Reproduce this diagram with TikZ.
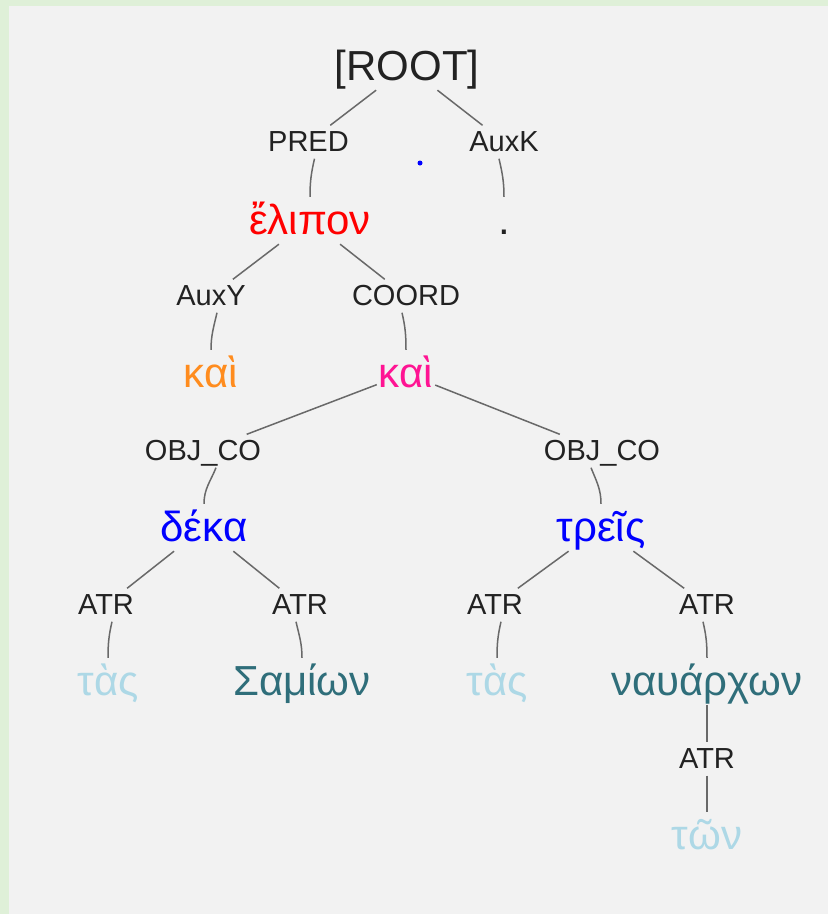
\documentclass[tikz,border=0pt]{standalone}
\usepackage{fontspec}
\setmainfont{Liberation Sans}
\definecolor{greenc}{RGB}{223,240,216}
\definecolor{bgc}{RGB}{242,242,242}
\definecolor{edgec}{RGB}{105,105,105}
\definecolor{labc}{RGB}{34,34,34}
\definecolor{redw}{RGB}{255,0,0}
\definecolor{orangew}{RGB}{255,140,30}
\definecolor{pinkw}{RGB}{255,20,147}
\definecolor{bluew}{RGB}{0,0,255}
\definecolor{lightw}{RGB}{173,216,230}
\definecolor{tealw}{RGB}{47,110,122}
\begin{document}
\begin{tikzpicture}[x=1pt,y=1pt,
  word/.style={anchor=base, font=\fontsize{42}{48}\selectfont, text height=31pt, text depth=4pt, inner xsep=2pt, inner ysep=6pt},
  lab/.style={anchor=base, font=\fontsize{29}{34}\selectfont, text=labc, text height=21pt, text depth=3pt, inner xsep=3pt, inner ysep=4.5pt},
  edge/.style={draw=edgec, line width=1.5pt},
  lbend/.style={edge, out=257, in=90},
  rbend/.style={edge, out=283, in=90},
  lwide/.style={edge, out=248, in=90},
  rwide/.style={edge, out=292, in=90}]
\useasboundingbox (0,0) rectangle (828,-914);
\fill[greenc] (0,0) rectangle (828,-914);
\fill[bgc] (9,-6) rectangle (828,-914);

% words
\node[word, text=labc] (root) at (407,-80) {[ROOT]};
\node[word, text=redw] (elipon) at (310,-234) {ἔλιπον};
\node[word, text=labc] (period) at (504,-234) {.};
\node[word, text=orangew] (kai1) at (211,-387) {καὶ};
\node[word, text=pinkw] (kai2) at (406,-387) {καὶ};
\node[word, text=bluew] (deka) at (204,-541) {δέκα};
\node[word, text=bluew] (treis) at (601,-541) {τρεῖς};
\node[word, text=lightw] (tas1) at (108,-695) {τὰς};
\node[word, text=tealw] (samion) at (302,-695) {Σαμίων};
\node[word, text=lightw] (tas2) at (497,-695) {τὰς};
\node[word, text=tealw] (nauarchon) at (707,-695) {ναυάρχων};
\node[word, text=lightw] (ton) at (707,-849) {τῶν};

% labels
\node[lab] (pred) at (308.5,-151) {PRED};
\node[lab] (auxk) at (504,-151) {AuxK};
\node[lab] (auxy) at (211,-305) {AuxY};
\node[lab] (coord) at (406,-305) {COORD};
\node[lab] (obj1) at (203,-460) {OBJ\_CO};
\node[lab] (obj2) at (602,-460) {OBJ\_CO};
\node[lab] (atr1) at (106,-614) {ATR};
\node[lab] (atr2) at (300,-614) {ATR};
\node[lab] (atr3) at (495,-614) {ATR};
\node[lab] (atr4) at (707,-614) {ATR};
\node[lab] (atr5) at (707,-768) {ATR};

% blue dot
\fill[bluew] (420,-163) circle (2.5);

% upper segments
\draw[edge] (root) -- (pred);
\draw[edge] (root) -- (auxk);
\draw[edge] (elipon) -- (auxy);
\draw[edge] (elipon) -- (coord);
\draw[edge] (kai2) -- (obj1);
\draw[edge] (kai2) -- (obj2);
\draw[edge] (deka) -- (atr1);
\draw[edge] (deka) -- (atr2);
\draw[edge] (treis) -- (atr3);
\draw[edge] (treis) -- (atr4);
\draw[edge] (nauarchon) -- (atr5);

% lower segments
\draw[lbend] ([xshift=6pt]pred.south) to (elipon.north);
\draw[rbend] ([xshift=-5pt]auxk.south) to (period.north);
\draw[lbend] ([xshift=6pt]auxy.south) to (kai1.north);
\draw[rbend] ([xshift=-4pt]coord.south) to (kai2.north);
\draw[lwide] ([xshift=13pt]obj1.south) to (deka.north);
\draw[rwide] ([xshift=-11pt]obj2.south) to (treis.north);
\draw[lbend] ([xshift=6pt]atr1.south) to (tas1.north);
\draw[rbend] ([xshift=-4pt]atr2.south) to (samion.north);
\draw[lbend] ([xshift=6pt]atr3.south) to (tas2.north);
\draw[rbend] ([xshift=-4pt]atr4.south) to (nauarchon.north);
\draw[edge] (atr5) -- (ton);
\end{tikzpicture}
\end{document}
